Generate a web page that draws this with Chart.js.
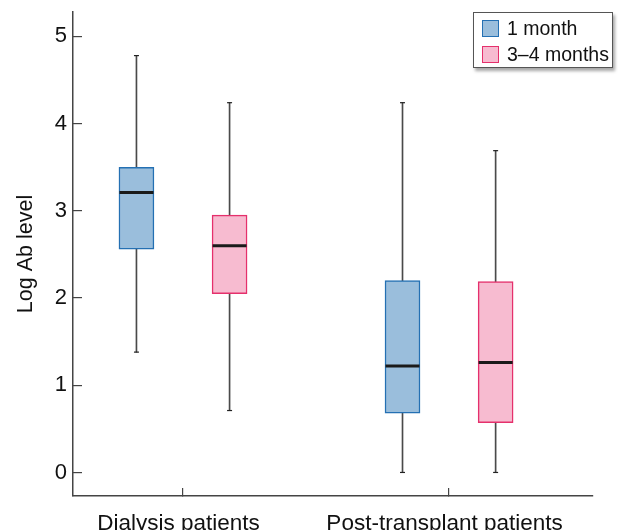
<!DOCTYPE html>
<html>
<head>
<meta charset="utf-8">
<script src="https://cdn.jsdelivr.net/npm/chart.js@4.4.1/dist/chart.umd.min.js"></script>
<style>
    html, body { margin: 0; padding: 0; background: #fff; }
    #wrap { position: relative; width: 618px; height: 530px; }
    #legend {
        position: absolute; left: 473px; top: 12px; width: 138px; height: 54px;
        border: 1px solid #555; background: #fff;
        box-shadow: 2px 3px 3px rgba(0, 0, 0, 0.35);
        font-family: 'Liberation Sans', Arial, sans-serif; font-size: 19.5px; color: #111;
    }
    .row { position: absolute; left: 8px; height: 20px; line-height: 20px; white-space: nowrap; }
    .swatch { position: absolute; left: 0; top: 1px; width: 15px; height: 15px; border: 1.5px solid; }
    .row span { position: absolute; left: 25px; top: -1px; }
</style>
</head>
<body>
<div id="wrap">
    <canvas id="chart" width="618" height="530"></canvas>
    <div id="legend"></div>
</div>
<script>
// Data
const groups = ['Dialysis patients', 'Post-transplant patients'];
const seriesNames = ['1 month', '3–4 months'];

const monthMin = [1.38, 0.0];
const monthQ1 = [2.56, 0.68];
const monthMedian = [3.21, 1.22];
const monthQ3 = [3.50, 2.20];
const monthMax = [4.78, 4.24];

const laterMin = [0.71, 0.0];
const laterQ1 = [2.05, 0.57];
const laterMedian = [2.60, 1.26];
const laterQ3 = [2.95, 2.19];
const laterMax = [4.24, 3.69];

const yTicks = [0, 1, 2, 3, 4, 5];

// Styling
const FONT = "'Liberation Sans', Arial, sans-serif";
const fills = ['#9abedc', '#f7bbd0'];
const borders = ['#2470b3', '#e5306c'];
const offsets = [-0.175, 0.175];
const axisColor = '#444';

const series = [
    { min: monthMin, q1: monthQ1, med: monthMedian, q3: monthQ3, max: monthMax },
    { min: laterMin, q1: laterQ1, med: laterMedian, q3: laterQ3, max: laterMax }
];

const datasets = [];
series.forEach((s, si) => {
    const xs = groups.map((g, gi) => gi + 1 + offsets[si]);
    datasets.push({
        type: 'bar', label: seriesNames[si], order: 1,
        data: xs.map((x, i) => ({ x: x, y: [s.q1[i], s.q3[i]] })),
        backgroundColor: fills[si], borderColor: borders[si], borderWidth: 1.5,
        borderSkipped: false, barThickness: 35, grouped: false
    });
    datasets.push({
        type: 'bar', label: 'whisker', order: 3,
        data: xs.map((x, i) => ({ x: x, y: [s.min[i], s.max[i]] })),
        backgroundColor: '#4a4a4a', borderWidth: 0, barThickness: 1, grouped: false
    });
    datasets.push({
        type: 'scatter', label: 'median', order: 0,
        data: xs.map((x, i) => ({ x: x, y: s.med[i] })),
        pointStyle: 'line', pointRadius: 17, borderColor: '#1a1a1a', pointBorderWidth: 3
    });
    datasets.push({
        type: 'scatter', label: 'cap', order: 0,
        data: xs.map((x, i) => ({ x: x, y: s.min[i] })).concat(xs.map((x, i) => ({ x: x, y: s.max[i] }))),
        pointStyle: 'line', pointRadius: 2.5, borderColor: '#222', pointBorderWidth: 1.2
    });
});

new Chart(document.getElementById('chart'), {
    type: 'bar',
    data: { datasets: datasets },
    options: {
        responsive: false,
        animation: false,
        layout: { autoPadding: false, padding: { top: 12, right: 25, left: 0, bottom: 0 } },
        plugins: { legend: { display: false }, tooltip: { enabled: false } },
        scales: {
            x: {
                type: 'linear', min: 0.5865, max: 2.541, offset: false,
                afterBuildTicks: scale => { scale.ticks = groups.map((g, i) => ({ value: i + 1 })); },
                afterFit: scale => {
                    scale.height = 34;
                    scale.paddingLeft = 0; scale.paddingRight = 0;
                },
                ticks: { callback: (v, i) => groups[i], color: '#111', font: { family: FONT, size: 22.5 }, padding: 22, labelOffset: -4.5, maxRotation: 0, autoSkip: false },
                grid: { offset: false, drawOnChartArea: false, tickLength: -8, color: axisColor, lineWidth: 1.2 },
                border: { color: axisColor, width: 1.5 }
            },
            y: {
                min: -0.27, max: 5.28,
                afterBuildTicks: scale => { scale.ticks = yTicks.map(v => ({ value: v })); },
                afterFit: scale => {
                    scale.width = 73;
                    scale.paddingTop = 0; scale.paddingBottom = 0;
                },
                ticks: { color: '#111', font: { family: FONT, size: 22 }, padding: 15 },
                grid: { drawOnChartArea: false, tickLength: -9, color: axisColor, lineWidth: 1.2 },
                border: { color: axisColor, width: 1.5 },
                title: { display: true, text: 'Log Ab level', color: '#111', font: { family: FONT, size: 21.5 }, padding: { top: 13, bottom: 0 } }
            }
        }
    }
});

// HTML legend
const legendEl = document.getElementById('legend');
seriesNames.forEach((name, i) => {
    const row = document.createElement('div');
    row.className = 'row';
    row.style.top = (6 + i * 26) + 'px';
    row.innerHTML = `<div class="swatch" style="background:${fills[i]};border-color:${borders[i]}"></div><span>${name}</span>`;
    legendEl.appendChild(row);
});
</script>
</body>
</html>
